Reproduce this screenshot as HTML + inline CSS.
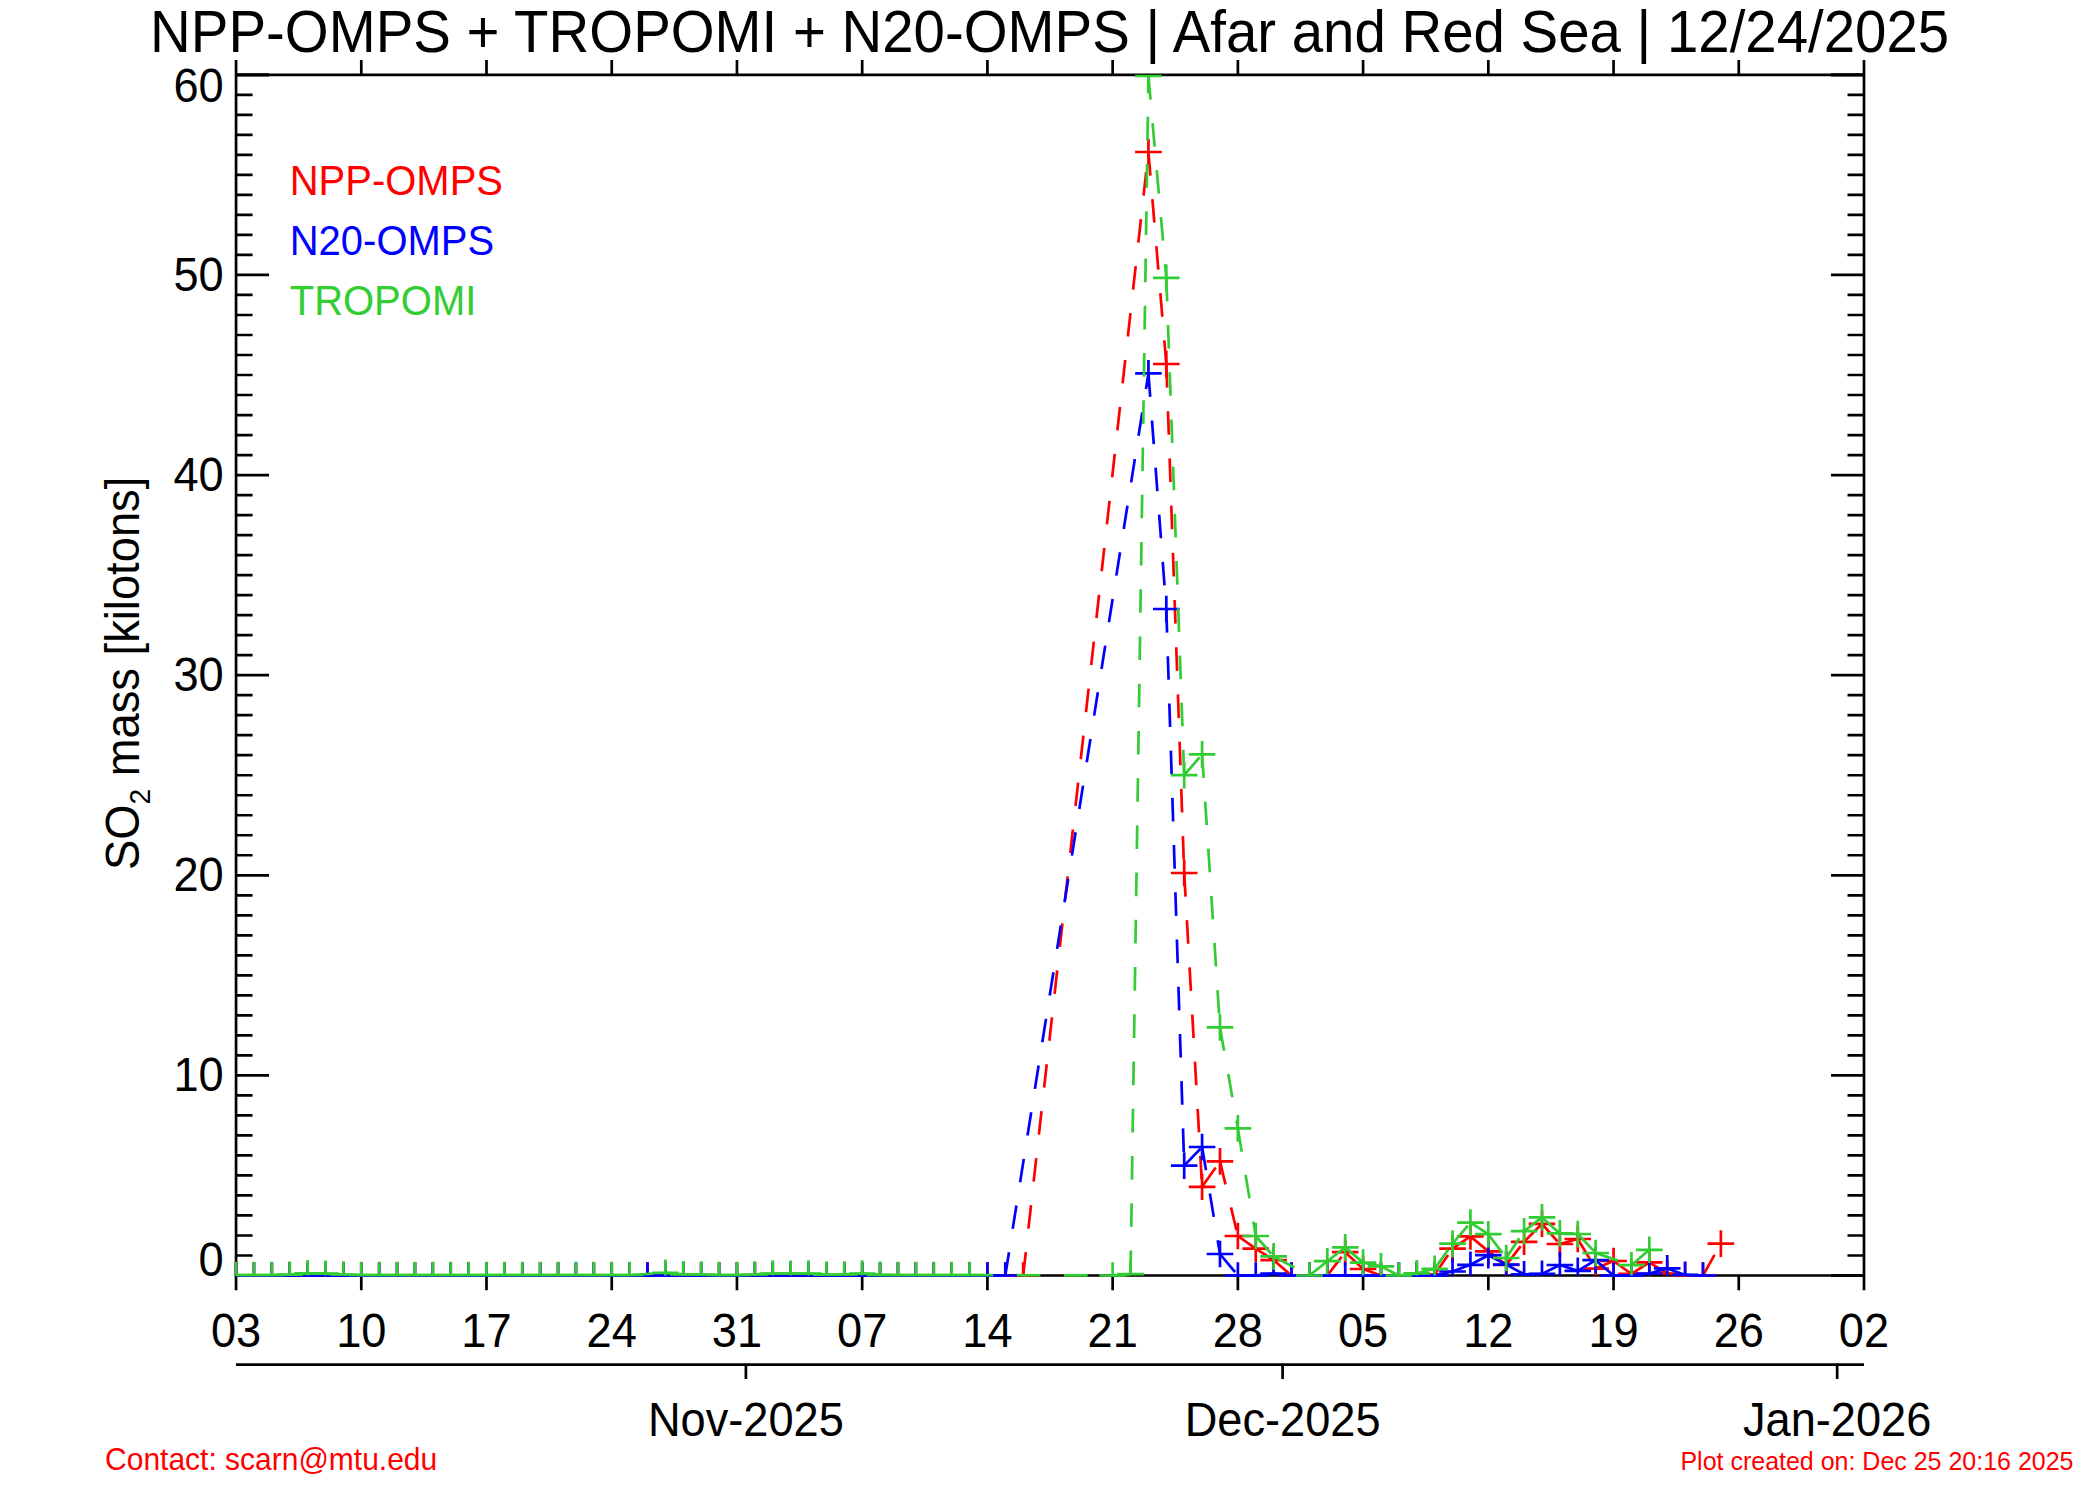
<!DOCTYPE html>
<html lang="en">
<head>
<meta charset="utf-8">
<title>NPP-OMPS + TROPOMI + N20-OMPS | Afar and Red Sea | 12/24/2025</title>
<style>
html,body{margin:0;padding:0;background:#fff;}
body{width:2100px;height:1500px;overflow:hidden;}
svg{display:block;}
text{font-family:"Liberation Sans",Arial,Helvetica,sans-serif;}
</style>
</head>
<body>
<svg width="2100" height="1500" viewBox="0 0 2100 1500" font-family="'Liberation Sans', Arial, Helvetica, sans-serif">
<rect width="2100" height="1500" fill="#ffffff"/>
<path d="M236.05 60.05V1290.3M1864 60.05V1290.3M236.05 74.85H1864M236.05 1275.5H1864M361.28 74.85V60.05M361.28 1275.5V1290.3M486.5 74.85V60.05M486.5 1275.5V1290.3M611.73 74.85V60.05M611.73 1275.5V1290.3M736.96 74.85V60.05M736.96 1275.5V1290.3M862.18 74.85V60.05M862.18 1275.5V1290.3M987.41 74.85V60.05M987.41 1275.5V1290.3M1112.64 74.85V60.05M1112.64 1275.5V1290.3M1237.87 74.85V60.05M1237.87 1275.5V1290.3M1363.09 74.85V60.05M1363.09 1275.5V1290.3M1488.32 74.85V60.05M1488.32 1275.5V1290.3M1613.55 74.85V60.05M1613.55 1275.5V1290.3M1738.77 74.85V60.05M1738.77 1275.5V1290.3M236.05 1275.5H269.05M1864 1275.5H1831M236.05 1255.49H252.55M1864 1255.49H1847.5M236.05 1235.48H252.55M1864 1235.48H1847.5M236.05 1215.47H252.55M1864 1215.47H1847.5M236.05 1195.46H252.55M1864 1195.46H1847.5M236.05 1175.45H252.55M1864 1175.45H1847.5M236.05 1155.43H252.55M1864 1155.43H1847.5M236.05 1135.42H252.55M1864 1135.42H1847.5M236.05 1115.41H252.55M1864 1115.41H1847.5M236.05 1095.4H252.55M1864 1095.4H1847.5M236.05 1075.39H269.05M1864 1075.39H1831M236.05 1055.38H252.55M1864 1055.38H1847.5M236.05 1035.37H252.55M1864 1035.37H1847.5M236.05 1015.36H252.55M1864 1015.36H1847.5M236.05 995.35H252.55M1864 995.35H1847.5M236.05 975.34H252.55M1864 975.34H1847.5M236.05 955.33H252.55M1864 955.33H1847.5M236.05 935.32H252.55M1864 935.32H1847.5M236.05 915.31H252.55M1864 915.31H1847.5M236.05 895.29H252.55M1864 895.29H1847.5M236.05 875.28H269.05M1864 875.28H1831M236.05 855.27H252.55M1864 855.27H1847.5M236.05 835.26H252.55M1864 835.26H1847.5M236.05 815.25H252.55M1864 815.25H1847.5M236.05 795.24H252.55M1864 795.24H1847.5M236.05 775.23H252.55M1864 775.23H1847.5M236.05 755.22H252.55M1864 755.22H1847.5M236.05 735.21H252.55M1864 735.21H1847.5M236.05 715.2H252.55M1864 715.2H1847.5M236.05 695.19H252.55M1864 695.19H1847.5M236.05 675.17H269.05M1864 675.17H1831M236.05 655.16H252.55M1864 655.16H1847.5M236.05 635.15H252.55M1864 635.15H1847.5M236.05 615.14H252.55M1864 615.14H1847.5M236.05 595.13H252.55M1864 595.13H1847.5M236.05 575.12H252.55M1864 575.12H1847.5M236.05 555.11H252.55M1864 555.11H1847.5M236.05 535.1H252.55M1864 535.1H1847.5M236.05 515.09H252.55M1864 515.09H1847.5M236.05 495.08H252.55M1864 495.08H1847.5M236.05 475.07H269.05M1864 475.07H1831M236.05 455.06H252.55M1864 455.06H1847.5M236.05 435.04H252.55M1864 435.04H1847.5M236.05 415.03H252.55M1864 415.03H1847.5M236.05 395.02H252.55M1864 395.02H1847.5M236.05 375.01H252.55M1864 375.01H1847.5M236.05 355H252.55M1864 355H1847.5M236.05 334.99H252.55M1864 334.99H1847.5M236.05 314.98H252.55M1864 314.98H1847.5M236.05 294.97H252.55M1864 294.97H1847.5M236.05 274.96H269.05M1864 274.96H1831M236.05 254.95H252.55M1864 254.95H1847.5M236.05 234.94H252.55M1864 234.94H1847.5M236.05 214.93H252.55M1864 214.93H1847.5M236.05 194.91H252.55M1864 194.91H1847.5M236.05 174.9H252.55M1864 174.9H1847.5M236.05 154.89H252.55M1864 154.89H1847.5M236.05 134.88H252.55M1864 134.88H1847.5M236.05 114.87H252.55M1864 114.87H1847.5M236.05 94.86H252.55M1864 94.86H1847.5M236.05 74.85H269.05M1864 74.85H1831M236.05 1364.6H1864M745.9 1364.6V1379.1M1282.59 1364.6V1379.1M1837.17 1364.6V1379.1" fill="none" stroke="#000" stroke-width="2.7"/>
<path d="M236.05 74.85H269.05M1864 74.85H1831M236.05 1275.5H269.05M1864 1275.5H1831" fill="none" stroke="#000" stroke-width="3.1"/>
<path d="M236.05 1275.5L253.94 1275.5M253.94 1275.5L271.83 1275.5M271.83 1275.5L289.72 1275.5M289.72 1275.5L307.61 1275.5M307.61 1275.5L325.5 1275.5M325.5 1275.5L343.39 1275.5M343.39 1275.5L361.28 1275.5M361.28 1275.5L379.17 1275.5M379.17 1275.5L397.06 1275.5M397.06 1275.5L414.95 1275.5M414.95 1275.5L432.84 1275.5M432.84 1275.5L450.72 1275.5M450.72 1275.5L468.61 1275.5M468.61 1275.5L486.5 1275.5M486.5 1275.5L504.39 1275.5M504.39 1275.5L522.28 1275.5M522.28 1275.5L540.17 1275.5M540.17 1275.5L558.06 1275.5M558.06 1275.5L575.95 1275.5M575.95 1275.5L593.84 1275.5M593.84 1275.5L611.73 1275.5M611.73 1275.5L629.62 1275.5M629.62 1275.5L647.51 1275.5M647.51 1275.5L665.4 1275.5M665.4 1275.5L683.29 1275.5M683.29 1275.5L701.18 1275.5M701.18 1275.5L719.07 1275.5M719.07 1275.5L736.96 1275.5M736.96 1275.5L754.85 1275.5M754.85 1275.5L772.74 1275.5M772.74 1275.5L790.63 1275.5M790.63 1275.5L808.52 1275.5M808.52 1275.5L826.41 1275.5M826.41 1275.5L844.3 1275.5M844.3 1275.5L862.18 1275.5M862.18 1275.5L880.07 1275.5M880.07 1275.5L897.96 1275.5M897.96 1275.5L915.85 1275.5M915.85 1275.5L933.74 1275.5M933.74 1275.5L951.63 1275.5M951.63 1275.5L969.52 1275.5M969.52 1275.5L987.41 1275.5M987.41 1275.5L1005.3 1275.5M1005.3 1275.5L1023.19 1275.5M1023.19 1275.5L1148.42 152M1148.42 152L1166.31 364M1166.31 364L1184.2 873M1184.2 873L1202.09 1186.8M1202.09 1186.8L1219.98 1161.4M1219.98 1161.4L1237.87 1236M1237.87 1236L1255.75 1248.6M1255.75 1248.6L1273.64 1260.2M1273.64 1260.2L1291.53 1275.5M1291.53 1275.5L1309.42 1275.5M1309.42 1275.5L1327.31 1275.5M1327.31 1275.5L1345.2 1252.2M1345.2 1252.2L1363.09 1269M1363.09 1269L1380.98 1275.5M1380.98 1275.5L1398.87 1275.5M1398.87 1275.5L1416.76 1275.5M1416.76 1275.5L1434.65 1274.5M1434.65 1274.5L1452.54 1248.6M1452.54 1248.6L1470.43 1236.4M1470.43 1236.4L1488.32 1251.4M1488.32 1251.4L1506.21 1264.8M1506.21 1264.8L1524.1 1241.8M1524.1 1241.8L1541.99 1223.8M1541.99 1223.8L1559.88 1244M1559.88 1244L1577.77 1239M1577.77 1239L1595.66 1268.6M1595.66 1268.6L1613.55 1261M1613.55 1261L1631.44 1273.9M1631.44 1273.9L1649.33 1262.4M1649.33 1262.4L1667.21 1273.5M1667.21 1273.5L1685.1 1275.5M1685.1 1275.5L1702.99 1275.5M1702.99 1275.5L1720.88 1243.6" fill="none" stroke="#ff0000" stroke-width="2.7" stroke-dasharray="23.62 23.62"/>
<path d="M236.05 1275.5H249.35M236.05 1262.2V1275.5M240.64 1275.5H267.24M253.94 1262.2V1275.5M258.53 1275.5H285.13M271.83 1262.2V1275.5M276.42 1275.5H303.02M289.72 1262.2V1275.5M294.31 1275.5H320.91M307.61 1262.2V1275.5M312.2 1275.5H338.8M325.5 1262.2V1275.5M330.09 1275.5H356.69M343.39 1262.2V1275.5M347.98 1275.5H374.58M361.28 1262.2V1275.5M365.87 1275.5H392.47M379.17 1262.2V1275.5M383.76 1275.5H410.36M397.06 1262.2V1275.5M401.65 1275.5H428.25M414.95 1262.2V1275.5M419.54 1275.5H446.14M432.84 1262.2V1275.5M437.42 1275.5H464.02M450.72 1262.2V1275.5M455.31 1275.5H481.91M468.61 1262.2V1275.5M473.2 1275.5H499.8M486.5 1262.2V1275.5M491.09 1275.5H517.69M504.39 1262.2V1275.5M508.98 1275.5H535.58M522.28 1262.2V1275.5M526.87 1275.5H553.47M540.17 1262.2V1275.5M544.76 1275.5H571.36M558.06 1262.2V1275.5M562.65 1275.5H589.25M575.95 1262.2V1275.5M580.54 1275.5H607.14M593.84 1262.2V1275.5M598.43 1275.5H625.03M611.73 1262.2V1275.5M616.32 1275.5H642.92M629.62 1262.2V1275.5M634.21 1275.5H660.81M647.51 1262.2V1275.5M652.1 1275.5H678.7M665.4 1262.2V1275.5M669.99 1275.5H696.59M683.29 1262.2V1275.5M687.88 1275.5H714.48M701.18 1262.2V1275.5M705.77 1275.5H732.37M719.07 1262.2V1275.5M723.66 1275.5H750.26M736.96 1262.2V1275.5M741.55 1275.5H768.15M754.85 1262.2V1275.5M759.44 1275.5H786.04M772.74 1262.2V1275.5M777.33 1275.5H803.93M790.63 1262.2V1275.5M795.22 1275.5H821.82M808.52 1262.2V1275.5M813.11 1275.5H839.71M826.41 1262.2V1275.5M831 1275.5H857.6M844.3 1262.2V1275.5M848.88 1275.5H875.48M862.18 1262.2V1275.5M866.77 1275.5H893.37M880.07 1262.2V1275.5M884.66 1275.5H911.26M897.96 1262.2V1275.5M902.55 1275.5H929.15M915.85 1262.2V1275.5M920.44 1275.5H947.04M933.74 1262.2V1275.5M938.33 1275.5H964.93M951.63 1262.2V1275.5M956.22 1275.5H982.82M969.52 1262.2V1275.5M974.11 1275.5H1000.71M987.41 1262.2V1275.5M992 1275.5H1018.6M1005.3 1262.2V1275.5M1009.89 1275.5H1036.49M1023.19 1262.2V1275.5M1135.12 152H1161.72M1148.42 138.7V165.3M1153.01 364H1179.61M1166.31 350.7V377.3M1170.9 873H1197.5M1184.2 859.7V886.3M1188.79 1186.8H1215.39M1202.09 1173.5V1200.1M1206.68 1161.4H1233.28M1219.98 1148.1V1174.7M1224.57 1236H1251.17M1237.87 1222.7V1249.3M1242.45 1248.6H1269.05M1255.75 1235.3V1261.9M1260.34 1260.2H1286.94M1273.64 1246.9V1273.5M1278.23 1275.5H1304.83M1291.53 1262.2V1275.5M1296.12 1275.5H1322.72M1309.42 1262.2V1275.5M1314.01 1275.5H1340.61M1327.31 1262.2V1275.5M1331.9 1252.2H1358.5M1345.2 1238.9V1265.5M1349.79 1269H1376.39M1363.09 1255.7V1275.5M1367.68 1275.5H1394.28M1380.98 1262.2V1275.5M1385.57 1275.5H1412.17M1398.87 1262.2V1275.5M1403.46 1275.5H1430.06M1416.76 1262.2V1275.5M1421.35 1274.5H1447.95M1434.65 1261.2V1275.5M1439.24 1248.6H1465.84M1452.54 1235.3V1261.9M1457.13 1236.4H1483.73M1470.43 1223.1V1249.7M1475.02 1251.4H1501.62M1488.32 1238.1V1264.7M1492.91 1264.8H1519.51M1506.21 1251.5V1275.5M1510.8 1241.8H1537.4M1524.1 1228.5V1255.1M1528.69 1223.8H1555.29M1541.99 1210.5V1237.1M1546.58 1244H1573.18M1559.88 1230.7V1257.3M1564.47 1239H1591.07M1577.77 1225.7V1252.3M1582.36 1268.6H1608.96M1595.66 1255.3V1275.5M1600.25 1261H1626.85M1613.55 1247.7V1274.3M1618.14 1273.9H1644.74M1631.44 1260.6V1275.5M1636.03 1262.4H1662.63M1649.33 1249.1V1275.5M1653.91 1273.5H1680.51M1667.21 1260.2V1275.5M1671.8 1275.5H1698.4M1685.1 1262.2V1275.5M1689.69 1275.5H1716.29M1702.99 1262.2V1275.5M1707.58 1243.6H1734.18M1720.88 1230.3V1256.9" fill="none" stroke="#ff0000" stroke-width="2.7"/>
<path d="M236.05 1275.5L253.94 1275.5M253.94 1275.5L271.83 1275.5M271.83 1275.5L289.72 1275.5M289.72 1275.5L307.61 1275.5M307.61 1275.5L325.5 1275.5M325.5 1275.5L343.39 1275.5M343.39 1275.5L361.28 1275.5M361.28 1275.5L379.17 1275.5M379.17 1275.5L397.06 1275.5M397.06 1275.5L414.95 1275.5M414.95 1275.5L432.84 1275.5M432.84 1275.5L450.72 1275.5M450.72 1275.5L468.61 1275.5M468.61 1275.5L486.5 1275.5M486.5 1275.5L504.39 1275.5M504.39 1275.5L522.28 1275.5M522.28 1275.5L540.17 1275.5M540.17 1275.5L558.06 1275.5M558.06 1275.5L575.95 1275.5M575.95 1275.5L593.84 1275.5M593.84 1275.5L611.73 1275.5M611.73 1275.5L629.62 1275.5M629.62 1275.5L647.51 1275.5M647.51 1275.5L665.4 1275.5M665.4 1275.5L683.29 1275.5M683.29 1275.5L701.18 1275.5M701.18 1275.5L719.07 1275.5M719.07 1275.5L736.96 1275.5M736.96 1275.5L754.85 1275.5M754.85 1275.5L772.74 1275.5M772.74 1275.5L790.63 1275.5M790.63 1275.5L808.52 1275.5M808.52 1275.5L826.41 1275.5M826.41 1275.5L844.3 1275.5M844.3 1275.5L862.18 1275.5M862.18 1275.5L880.07 1275.5M880.07 1275.5L897.96 1275.5M897.96 1275.5L915.85 1275.5M915.85 1275.5L933.74 1275.5M933.74 1275.5L951.63 1275.5M951.63 1275.5L969.52 1275.5M969.52 1275.5L987.41 1275.5M987.41 1275.5L1005.3 1275.5M1005.3 1275.5L1148.42 373.4M1148.42 373.4L1166.31 609M1166.31 609L1184.2 1165.6M1184.2 1165.6L1202.09 1147M1202.09 1147L1219.98 1254M1219.98 1254L1237.87 1275.5M1237.87 1275.5L1255.75 1275.5M1255.75 1275.5L1273.64 1273.5M1273.64 1273.5L1291.53 1275.5M1291.53 1275.5L1309.42 1275.5M1309.42 1275.5L1327.31 1275.5M1327.31 1275.5L1345.2 1275.5M1345.2 1275.5L1363.09 1275.5M1363.09 1275.5L1380.98 1275.5M1380.98 1275.5L1398.87 1275.5M1398.87 1275.5L1416.76 1275.5M1416.76 1275.5L1434.65 1275.5M1434.65 1275.5L1452.54 1271.5M1452.54 1271.5L1470.43 1264.8M1470.43 1264.8L1488.32 1255.2M1488.32 1255.2L1506.21 1264.6M1506.21 1264.6L1524.1 1274.3M1524.1 1274.3L1541.99 1273.9M1541.99 1273.9L1559.88 1265M1559.88 1265L1577.77 1270.9M1577.77 1270.9L1595.66 1260.2M1595.66 1260.2L1613.55 1275.5M1613.55 1275.5L1631.44 1275.5M1631.44 1275.5L1649.33 1273.5M1649.33 1273.5L1667.21 1268.4M1667.21 1268.4L1685.1 1274.9M1685.1 1274.9L1702.99 1275.5" fill="none" stroke="#0000ff" stroke-width="2.7" stroke-dasharray="23.62 23.62"/>
<path d="M236.05 1275.5H249.35M236.05 1262.2V1275.5M240.64 1275.5H267.24M253.94 1262.2V1275.5M258.53 1275.5H285.13M271.83 1262.2V1275.5M276.42 1275.5H303.02M289.72 1262.2V1275.5M294.31 1275.5H320.91M307.61 1262.2V1275.5M312.2 1275.5H338.8M325.5 1262.2V1275.5M330.09 1275.5H356.69M343.39 1262.2V1275.5M347.98 1275.5H374.58M361.28 1262.2V1275.5M365.87 1275.5H392.47M379.17 1262.2V1275.5M383.76 1275.5H410.36M397.06 1262.2V1275.5M401.65 1275.5H428.25M414.95 1262.2V1275.5M419.54 1275.5H446.14M432.84 1262.2V1275.5M437.42 1275.5H464.02M450.72 1262.2V1275.5M455.31 1275.5H481.91M468.61 1262.2V1275.5M473.2 1275.5H499.8M486.5 1262.2V1275.5M491.09 1275.5H517.69M504.39 1262.2V1275.5M508.98 1275.5H535.58M522.28 1262.2V1275.5M526.87 1275.5H553.47M540.17 1262.2V1275.5M544.76 1275.5H571.36M558.06 1262.2V1275.5M562.65 1275.5H589.25M575.95 1262.2V1275.5M580.54 1275.5H607.14M593.84 1262.2V1275.5M598.43 1275.5H625.03M611.73 1262.2V1275.5M616.32 1275.5H642.92M629.62 1262.2V1275.5M634.21 1275.5H660.81M647.51 1262.2V1275.5M652.1 1275.5H678.7M665.4 1262.2V1275.5M669.99 1275.5H696.59M683.29 1262.2V1275.5M687.88 1275.5H714.48M701.18 1262.2V1275.5M705.77 1275.5H732.37M719.07 1262.2V1275.5M723.66 1275.5H750.26M736.96 1262.2V1275.5M741.55 1275.5H768.15M754.85 1262.2V1275.5M759.44 1275.5H786.04M772.74 1262.2V1275.5M777.33 1275.5H803.93M790.63 1262.2V1275.5M795.22 1275.5H821.82M808.52 1262.2V1275.5M813.11 1275.5H839.71M826.41 1262.2V1275.5M831 1275.5H857.6M844.3 1262.2V1275.5M848.88 1275.5H875.48M862.18 1262.2V1275.5M866.77 1275.5H893.37M880.07 1262.2V1275.5M884.66 1275.5H911.26M897.96 1262.2V1275.5M902.55 1275.5H929.15M915.85 1262.2V1275.5M920.44 1275.5H947.04M933.74 1262.2V1275.5M938.33 1275.5H964.93M951.63 1262.2V1275.5M956.22 1275.5H982.82M969.52 1262.2V1275.5M974.11 1275.5H1000.71M987.41 1262.2V1275.5M992 1275.5H1018.6M1005.3 1262.2V1275.5M1135.12 373.4H1161.72M1148.42 360.1V386.7M1153.01 609H1179.61M1166.31 595.7V622.3M1170.9 1165.6H1197.5M1184.2 1152.3V1178.9M1188.79 1147H1215.39M1202.09 1133.7V1160.3M1206.68 1254H1233.28M1219.98 1240.7V1267.3M1224.57 1275.5H1251.17M1237.87 1262.2V1275.5M1242.45 1275.5H1269.05M1255.75 1262.2V1275.5M1260.34 1273.5H1286.94M1273.64 1260.2V1275.5M1278.23 1275.5H1304.83M1291.53 1262.2V1275.5M1296.12 1275.5H1322.72M1309.42 1262.2V1275.5M1314.01 1275.5H1340.61M1327.31 1262.2V1275.5M1331.9 1275.5H1358.5M1345.2 1262.2V1275.5M1349.79 1275.5H1376.39M1363.09 1262.2V1275.5M1367.68 1275.5H1394.28M1380.98 1262.2V1275.5M1385.57 1275.5H1412.17M1398.87 1262.2V1275.5M1403.46 1275.5H1430.06M1416.76 1262.2V1275.5M1421.35 1275.5H1447.95M1434.65 1262.2V1275.5M1439.24 1271.5H1465.84M1452.54 1258.2V1275.5M1457.13 1264.8H1483.73M1470.43 1251.5V1275.5M1475.02 1255.2H1501.62M1488.32 1241.9V1268.5M1492.91 1264.6H1519.51M1506.21 1251.3V1275.5M1510.8 1274.3H1537.4M1524.1 1261V1275.5M1528.69 1273.9H1555.29M1541.99 1260.6V1275.5M1546.58 1265H1573.18M1559.88 1251.7V1275.5M1564.47 1270.9H1591.07M1577.77 1257.6V1275.5M1582.36 1260.2H1608.96M1595.66 1246.9V1273.5M1600.25 1275.5H1626.85M1613.55 1262.2V1275.5M1618.14 1275.5H1644.74M1631.44 1262.2V1275.5M1636.03 1273.5H1662.63M1649.33 1260.2V1275.5M1653.91 1268.4H1680.51M1667.21 1255.1V1275.5M1671.8 1274.9H1698.4M1685.1 1261.6V1275.5M1689.69 1275.5H1716.29M1702.99 1262.2V1275.5" fill="none" stroke="#0000ff" stroke-width="2.7"/>
<path d="M236.05 1275L253.94 1275M253.94 1275L271.83 1275M271.83 1275L289.72 1274.7M289.72 1274.7L307.61 1273.3M307.61 1273.3L325.5 1273.7M325.5 1273.7L343.39 1274.5M343.39 1274.5L361.28 1275M361.28 1275L379.17 1275M379.17 1275L397.06 1275M397.06 1275L414.95 1275M414.95 1275L432.84 1275M432.84 1275L450.72 1275M450.72 1275L468.61 1275M468.61 1275L486.5 1275M486.5 1275L504.39 1275M504.39 1275L522.28 1275M522.28 1275L540.17 1275M540.17 1275L558.06 1275M558.06 1275L575.95 1275M575.95 1275L593.84 1275M593.84 1275L611.73 1275M611.73 1275L629.62 1275M629.62 1275L665.4 1272.9M665.4 1272.9L683.29 1274.3M683.29 1274.3L701.18 1274.5M701.18 1274.5L719.07 1275M719.07 1275L736.96 1275M736.96 1275L754.85 1274.5M754.85 1274.5L772.74 1273.5M772.74 1273.5L790.63 1273.7M790.63 1273.7L808.52 1273.5M808.52 1273.5L826.41 1274.7M826.41 1274.7L844.3 1274.5M844.3 1274.5L862.18 1273.5M862.18 1273.5L880.07 1274.9M880.07 1274.9L897.96 1275M897.96 1275L915.85 1275M915.85 1275L933.74 1275M933.74 1275L951.63 1275M951.63 1275L969.52 1275M969.52 1275L1112.64 1275.5M1112.64 1275.5L1130.53 1274.1M1130.53 1274.1L1148.42 76M1148.42 76L1166.31 277.8M1166.31 277.8L1184.2 775.2M1184.2 775.2L1202.09 754.4M1202.09 754.4L1219.98 1027.4M1219.98 1027.4L1237.87 1128.4M1237.87 1128.4L1255.75 1236M1255.75 1236L1273.64 1256.4M1273.64 1256.4L1309.42 1275.5M1309.42 1275.5L1327.31 1261.2M1327.31 1261.2L1345.2 1247.4M1345.2 1247.4L1363.09 1262.6M1363.09 1262.6L1380.98 1266.4M1380.98 1266.4L1398.87 1275.5M1398.87 1275.5L1416.76 1273.3M1416.76 1273.3L1434.65 1268.8M1434.65 1268.8L1452.54 1243.6M1452.54 1243.6L1470.43 1222.6M1470.43 1222.6L1488.32 1234.2M1488.32 1234.2L1506.21 1258M1506.21 1258L1524.1 1231.2M1524.1 1231.2L1541.99 1217.4M1541.99 1217.4L1559.88 1233.4M1559.88 1233.4L1577.77 1234M1577.77 1234L1595.66 1253M1595.66 1253L1631.44 1265.2M1631.44 1265.2L1649.33 1249.8" fill="none" stroke="#32cd32" stroke-width="2.7" stroke-dasharray="23.62 23.62"/>
<path d="M236.05 1275H249.35M236.05 1261.7V1275.5M240.64 1275H267.24M253.94 1261.7V1275.5M258.53 1275H285.13M271.83 1261.7V1275.5M276.42 1274.7H303.02M289.72 1261.4V1275.5M294.31 1273.3H320.91M307.61 1260V1275.5M312.2 1273.7H338.8M325.5 1260.4V1275.5M330.09 1274.5H356.69M343.39 1261.2V1275.5M347.98 1275H374.58M361.28 1261.7V1275.5M365.87 1275H392.47M379.17 1261.7V1275.5M383.76 1275H410.36M397.06 1261.7V1275.5M401.65 1275H428.25M414.95 1261.7V1275.5M419.54 1275H446.14M432.84 1261.7V1275.5M437.42 1275H464.02M450.72 1261.7V1275.5M455.31 1275H481.91M468.61 1261.7V1275.5M473.2 1275H499.8M486.5 1261.7V1275.5M491.09 1275H517.69M504.39 1261.7V1275.5M508.98 1275H535.58M522.28 1261.7V1275.5M526.87 1275H553.47M540.17 1261.7V1275.5M544.76 1275H571.36M558.06 1261.7V1275.5M562.65 1275H589.25M575.95 1261.7V1275.5M580.54 1275H607.14M593.84 1261.7V1275.5M598.43 1275H625.03M611.73 1261.7V1275.5M616.32 1275H642.92M629.62 1261.7V1275.5M652.1 1272.9H678.7M665.4 1259.6V1275.5M669.99 1274.3H696.59M683.29 1261V1275.5M687.88 1274.5H714.48M701.18 1261.2V1275.5M705.77 1275H732.37M719.07 1261.7V1275.5M723.66 1275H750.26M736.96 1261.7V1275.5M741.55 1274.5H768.15M754.85 1261.2V1275.5M759.44 1273.5H786.04M772.74 1260.2V1275.5M777.33 1273.7H803.93M790.63 1260.4V1275.5M795.22 1273.5H821.82M808.52 1260.2V1275.5M813.11 1274.7H839.71M826.41 1261.4V1275.5M831 1274.5H857.6M844.3 1261.2V1275.5M848.88 1273.5H875.48M862.18 1260.2V1275.5M866.77 1274.9H893.37M880.07 1261.6V1275.5M884.66 1275H911.26M897.96 1261.7V1275.5M902.55 1275H929.15M915.85 1261.7V1275.5M920.44 1275H947.04M933.74 1261.7V1275.5M938.33 1275H964.93M951.63 1261.7V1275.5M956.22 1275H982.82M969.52 1261.7V1275.5M1099.34 1275.5H1125.94M1112.64 1262.2V1275.5M1117.23 1274.1H1143.83M1130.53 1260.8V1275.5M1135.12 76H1161.72M1148.42 74.85V89.3M1153.01 277.8H1179.61M1166.31 264.5V291.1M1170.9 775.2H1197.5M1184.2 761.9V788.5M1188.79 754.4H1215.39M1202.09 741.1V767.7M1206.68 1027.4H1233.28M1219.98 1014.1V1040.7M1224.57 1128.4H1251.17M1237.87 1115.1V1141.7M1242.45 1236H1269.05M1255.75 1222.7V1249.3M1260.34 1256.4H1286.94M1273.64 1243.1V1269.7M1296.12 1275.5H1322.72M1309.42 1262.2V1275.5M1314.01 1261.2H1340.61M1327.31 1247.9V1274.5M1331.9 1247.4H1358.5M1345.2 1234.1V1260.7M1349.79 1262.6H1376.39M1363.09 1249.3V1275.5M1367.68 1266.4H1394.28M1380.98 1253.1V1275.5M1385.57 1275.5H1412.17M1398.87 1262.2V1275.5M1403.46 1273.3H1430.06M1416.76 1260V1275.5M1421.35 1268.8H1447.95M1434.65 1255.5V1275.5M1439.24 1243.6H1465.84M1452.54 1230.3V1256.9M1457.13 1222.6H1483.73M1470.43 1209.3V1235.9M1475.02 1234.2H1501.62M1488.32 1220.9V1247.5M1492.91 1258H1519.51M1506.21 1244.7V1271.3M1510.8 1231.2H1537.4M1524.1 1217.9V1244.5M1528.69 1217.4H1555.29M1541.99 1204.1V1230.7M1546.58 1233.4H1573.18M1559.88 1220.1V1246.7M1564.47 1234H1591.07M1577.77 1220.7V1247.3M1582.36 1253H1608.96M1595.66 1239.7V1266.3M1618.14 1265.2H1644.74M1631.44 1251.9V1275.5M1636.03 1249.8H1662.63M1649.33 1236.5V1263.1" fill="none" stroke="#32cd32" stroke-width="2.7"/>
<text id="title" transform="translate(1049.6 52.1) scale(1.0 1.045)" font-size="56.4" text-anchor="middle">NPP-OMPS + TROPOMI + N20-OMPS | Afar and Red Sea | 12/24/2025</text>
<text transform="translate(223.7 1275.7) scale(1.0 1.07)" font-size="45.2" text-anchor="end">0</text>
<text transform="translate(223.7 1090.99) scale(1.0 1.07)" font-size="45.2" text-anchor="end">10</text>
<text transform="translate(223.7 890.88) scale(1.0 1.07)" font-size="45.2" text-anchor="end">20</text>
<text transform="translate(223.7 690.77) scale(1.0 1.07)" font-size="45.2" text-anchor="end">30</text>
<text transform="translate(223.7 490.67) scale(1.0 1.07)" font-size="45.2" text-anchor="end">40</text>
<text transform="translate(223.7 290.56) scale(1.0 1.07)" font-size="45.2" text-anchor="end">50</text>
<text transform="translate(223.7 101.65) scale(1.0 1.07)" font-size="45.2" text-anchor="end">60</text>
<text transform="translate(236.05 1346.8) scale(1.0 1.07)" font-size="45.2" text-anchor="middle">03</text>
<text transform="translate(361.28 1346.8) scale(1.0 1.07)" font-size="45.2" text-anchor="middle">10</text>
<text transform="translate(486.5 1346.8) scale(1.0 1.07)" font-size="45.2" text-anchor="middle">17</text>
<text transform="translate(611.73 1346.8) scale(1.0 1.07)" font-size="45.2" text-anchor="middle">24</text>
<text transform="translate(736.96 1346.8) scale(1.0 1.07)" font-size="45.2" text-anchor="middle">31</text>
<text transform="translate(862.18 1346.8) scale(1.0 1.07)" font-size="45.2" text-anchor="middle">07</text>
<text transform="translate(987.41 1346.8) scale(1.0 1.07)" font-size="45.2" text-anchor="middle">14</text>
<text transform="translate(1112.64 1346.8) scale(1.0 1.07)" font-size="45.2" text-anchor="middle">21</text>
<text transform="translate(1237.87 1346.8) scale(1.0 1.07)" font-size="45.2" text-anchor="middle">28</text>
<text transform="translate(1363.09 1346.8) scale(1.0 1.07)" font-size="45.2" text-anchor="middle">05</text>
<text transform="translate(1488.32 1346.8) scale(1.0 1.07)" font-size="45.2" text-anchor="middle">12</text>
<text transform="translate(1613.55 1346.8) scale(1.0 1.07)" font-size="45.2" text-anchor="middle">19</text>
<text transform="translate(1738.77 1346.8) scale(1.0 1.07)" font-size="45.2" text-anchor="middle">26</text>
<text transform="translate(1864 1346.8) scale(1.0 1.07)" font-size="45.2" text-anchor="middle">02</text>
<text transform="translate(745.9 1435.6) scale(1.0 1.055)" font-size="45.2" text-anchor="middle">Nov-2025</text>
<text transform="translate(1282.59 1435.6) scale(1.0 1.055)" font-size="45.2" text-anchor="middle">Dec-2025</text>
<text transform="translate(1837.17 1435.6) scale(1.0 1.055)" font-size="45.2" text-anchor="middle">Jan-2026</text>
<text id="ytitle" transform="translate(139.3 673.3) rotate(-90) scale(0.985 1.045)" font-size="46" text-anchor="middle">SO<tspan font-size="28.5" dy="10.2">2</tspan><tspan dy="-10.2"> mass [kilotons]</tspan></text>
<text transform="translate(289.72 194.7) scale(1.0 1.045)" font-size="40" fill="#ff0000">NPP-OMPS</text>
<text transform="translate(289.72 254.6) scale(1.0 1.045)" font-size="40" fill="#0000ff">N20-OMPS</text>
<text transform="translate(289.72 314.5) scale(1.0 1.045)" font-size="40" fill="#32cd32">TROPOMI</text>
<text id="contact" transform="translate(105.1 1469.9) scale(1.0 1.03)" font-size="30" fill="#ff0000">Contact: scarn@mtu.edu</text>
<text id="created" transform="translate(2073.5 1470.2) scale(1.0 1.03)" font-size="25" text-anchor="end" fill="#ff0000">Plot created on: Dec 25 20:16 2025</text>
</svg>
</body>
</html>
